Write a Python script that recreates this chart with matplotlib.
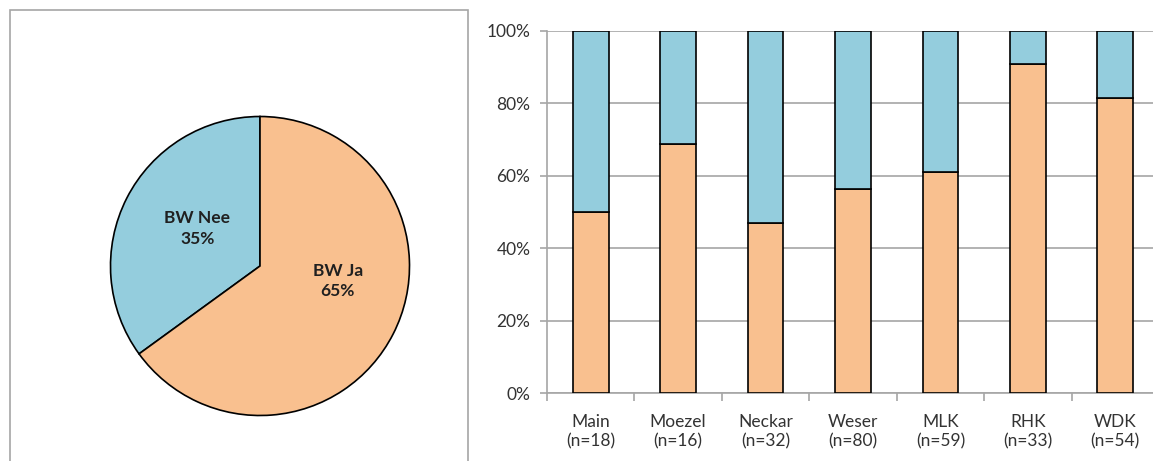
import matplotlib
matplotlib.use('Agg')
import matplotlib.pyplot as plt
from matplotlib.patches import Rectangle

plt.rcParams['font.family'] = ['Lato', 'DejaVu Sans']

# pie data
pie_labels = ['BW Nee', 'BW Ja']
pie_values = [35, 65]

# bar data (share "Ja" per river, the rest is "Nee")
rivers = ['Main', 'Moezel', 'Neckar', 'Weser', 'MLK', 'RHK', 'WDK']
n_counts = [18, 16, 32, 80, 59, 33, 54]
ja_pct = [50.0, 68.75, 46.9, 56.25, 61.0, 90.9, 81.5]

orange = '#F9C08F'
blue = '#94CDDD'
grey = '#A6A6A6'

W, H = 1153, 461
fig = plt.figure(figsize=(W/100, H/100), dpi=100)

# kader rond de taart
fig.patches.append(Rectangle((10/W, -0.05), 458/W, (461-10)/H + 0.05, transform=fig.transFigure,
                             fill=False, edgecolor=grey, lw=1.2))

# taart
r = 151
cx, cy = 260, 266
ax1 = fig.add_axes([(cx-r)/W, (H-cy-r)/H, 2*r/W, 2*r/H])
wedges, _ = ax1.pie(pie_values, colors=[blue, orange], startangle=90, counterclock=True,
                    wedgeprops=dict(edgecolor='black', linewidth=1.2), radius=1)
ax1.set_xlim(-1.01, 1.01)
ax1.set_ylim(-1.01, 1.01)
ax1.text(-0.42, 0.25, pie_labels[0] + '\n' + str(pie_values[0]) + '%', ha='center', va='center',
         fontsize=12.5, fontweight='bold', color='#202020', linespacing=1.35)
ax1.text(0.52, -0.10, pie_labels[1] + '\n' + str(pie_values[1]) + '%', ha='center', va='center',
         fontsize=12.5, fontweight='bold', color='#202020', linespacing=1.35)

# gestapelde staven
x0, x1 = 547, 1159
y0, y1 = 393, 31
ax2 = fig.add_axes([x0/W, (H-y0)/H, (x1-x0)/W, (y0-y1)/H])
xs = range(len(rivers))
nee_pct = [100 - v for v in ja_pct]
ax2.bar(xs, ja_pct, width=0.41, color=orange, edgecolor='black', linewidth=1.2, zorder=3)
ax2.bar(xs, nee_pct, bottom=ja_pct, width=0.41, color=blue, edgecolor='black', linewidth=1.2, zorder=3)
ax2.set_xlim(-0.5, len(rivers) - 0.5)
ax2.set_ylim(0, 100)
ax2.set_yticks(range(0, 101, 20))
ax2.set_yticklabels([str(v) + '%' for v in range(0, 101, 20)], fontsize=12.5, color='#333333')
ax2.yaxis.grid(True, color=grey, lw=1.2, zorder=0)
ax2.set_xticks([i - 0.5 for i in range(len(rivers) + 1)])
ax2.set_xticklabels([])
ax2.set_xticks(list(xs), minor=True)
ax2.set_xticklabels([rv + '\n(n=' + str(n) + ')' for rv, n in zip(rivers, n_counts)], minor=True,
                    fontsize=12.5, color='#333333', linespacing=1.3)
ax2.tick_params(axis='x', which='major', length=6, color=grey, width=1.2)
ax2.tick_params(axis='x', which='minor', length=0, pad=15)
ax2.tick_params(axis='y', length=5, color=grey, width=1.2, pad=7)
for s in ['top', 'right']:
    ax2.spines[s].set_visible(False)
for s in ['left', 'bottom']:
    ax2.spines[s].set_color(grey)
    ax2.spines[s].set_linewidth(1.2)
ax2.set_axisbelow(True)

fig.savefig('out.png', dpi=100)
